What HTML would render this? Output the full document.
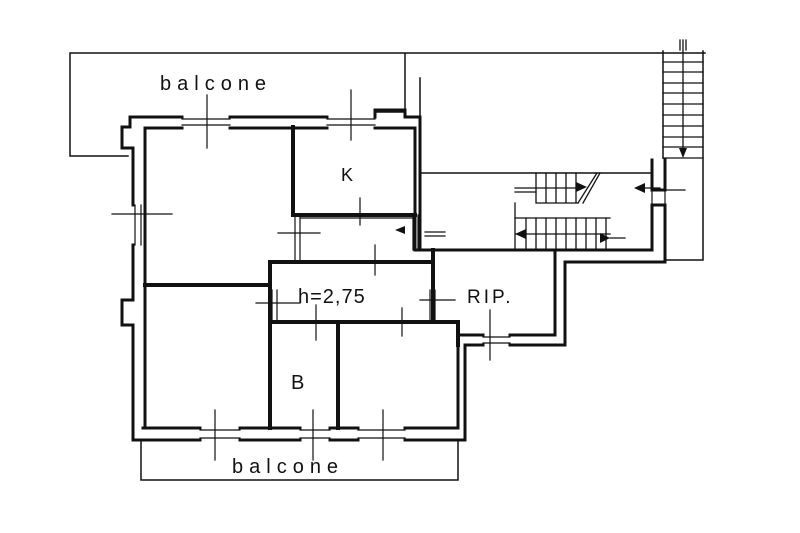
<!DOCTYPE html>
<html><head><style>
html,body{margin:0;padding:0;background:#fff;width:800px;height:533px;overflow:hidden}
svg text{font-family:"Liberation Sans",sans-serif;fill:#111}
</style></head><body>
<svg width="800" height="533" viewBox="0 0 800 533" xmlns="http://www.w3.org/2000/svg">
<g fill="none" stroke="#111" stroke-linecap="square">
<!-- thin balcony outlines -->
<g stroke-width="1.5">
<path d="M70 53 H705 M70 53 V156 H128 M405 53 V112 H375"/>
<path d="M420 78 V250"/>
<path d="M420 173 H652"/>
<path d="M141 440 V480 H458 V440"/>
<path d="M663 51 V158 M703 51 V260 H665"/>
</g>
<!-- right staircase steps -->
<g stroke-width="1.3">
<path d="M663 62H703 M663 72H703 M663 83H703 M663 93H703 M663 104H703 M663 115H703 M663 126H703 M663 137H703 M663 147H703 M663 158H703"/>
<path d="M683 40V155 M680 40V50 M686 40V50"/>
<path d="M536 173V203 M546 173V203 M556 173V203 M566 173V203 M576 173V203 M536 203H578 M536 188H578 M515 203V218 M515 218H610"/>
<path d="M515 218V250 M526 218V250 M536 218V250 M546 218V250 M556 218V250 M566 218V250 M576 218V250 M586 218V250 M596 218V250 M606 218V250 M515 234H610"/>
<path d="M578 203 L597 173 M583 203 L600 173"/>
<path d="M515 188H536 M515 192H536 M610 238H625 M640 188H660"/>
</g>
<!-- window glazing thin lines -->
<g stroke-width="1.2">
<path d="M182 119 H230 M182 125 H230 M327 119 H375 M327 125 H375"/>
<path d="M135 205 V245 M141 205 V245"/>
<path d="M200 430 H240 M200 438 H240 M300 430 H330 M300 438 H330 M358 430 H405 M358 438 H405"/>
<path d="M483 337 H510 M483 343 H510"/>
<path d="M652 190 V205 M665 190 V205"/>
<path d="M295 215 V262 M300 215 V262 M413 215 V250 M418 215 V250"/>
<path d="M300 218 H415"/>
<path d="M272 290 V320 M277 290 V320 M430 290 V320 M435 290 V320"/>
</g>
<!-- outer walls (double lines) -->
<g stroke-width="3">
<path d="M182 117 H130 V127 H122 V148 H133 V205 M133 245 V300 H122 V325 H133 V440 H200"/>
<path d="M145 128 V428"/>
<path d="M145 128 H182 M230 128 H327 M375 128 H415 V250"/>
<path d="M230 117 H327 M375 117 V110 H405 V117 H420 V250"/>
<path d="M240 440 H300 M330 440 H358 M405 440 H465 V345 H483 M510 345 H565 V262 H665 V205"/>
<path d="M143 428 H200 M240 428 H300 M330 428 H358 M405 428 H458 V345"/>
<path d="M415 250 H652 V205"/>
<path d="M555 252 V335 H510 M483 335 H458"/>
<path d="M652 160 V190 M665 160 V190 M652 205 H665 M652 190 H665"/>
</g>
<!-- interior walls -->
<g stroke-width="4">
<path d="M293 127 V215 H415"/>
<path d="M145 285 H270"/>
<path d="M270 262 H433 V322 M270 262 V428"/>
<path d="M270 322 H433"/>
<path d="M338 322 V428"/>
<path d="M433 250 V262 M433 322 H458 V345"/>
</g>
<!-- window/door ticks -->
<g stroke-width="1.2">
<path d="M207 95 V148 M351 90 V140 M112 214 H172 M360 198 V225 M278 233 H320 M375 245 V275 M256 303 H300 M316 305 V340 M402 308 V336 M420 300 H455 M490 310 V360 M215 410 V460 M313 410 V460 M383 410 V460"/>
<path d="M425 232 H445 M425 236 H445 M655 190 H685"/>
</g>
</g>
<!-- arrow heads -->
<g fill="#111">
<polygon points="395,230 405,226 405,234"/>
<polygon points="634,188 645,183 645,193"/>
<polygon points="515,234 526,229 526,239"/>
<polygon points="610,238 600,233 600,243"/>
<polygon points="587,187 576,182 576,192"/>
<polygon points="683,158 679,148 687,148"/>
</g>
<text x="160" y="90" font-size="20" letter-spacing="6">balcone</text>
<text x="341" y="181" font-size="18">K</text>
<text x="298" y="303" font-size="20" letter-spacing="1">h=2,75</text>
<text x="467" y="303" font-size="19" letter-spacing="3">RIP.</text>
<text x="291" y="389" font-size="20">B</text>
<text x="232" y="473" font-size="20" letter-spacing="6">balcone</text>
</svg>
</body></html>
